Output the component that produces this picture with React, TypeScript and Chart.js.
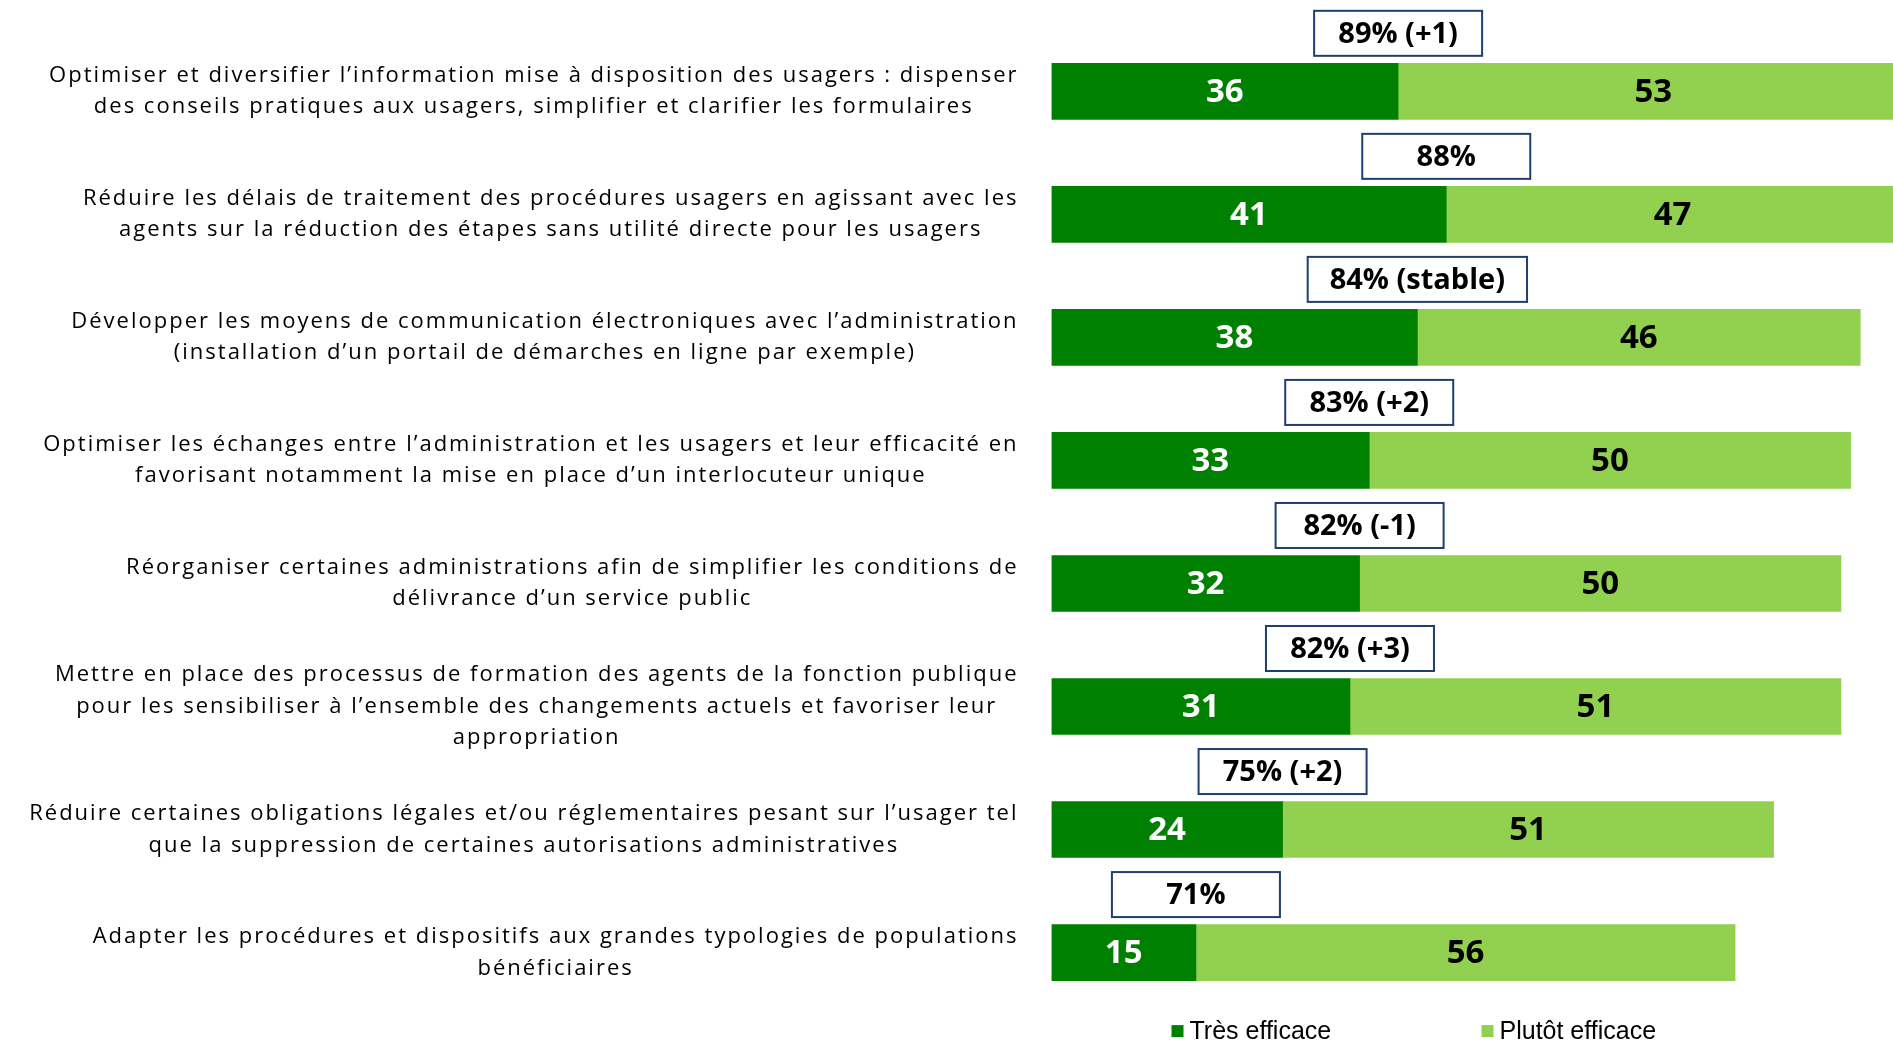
import React, { useEffect, useRef } from "react";
import { Chart, registerables } from "chart.js";

Chart.register(...registerables);

const categories: string[][] = [
  [
    "Optimiser et diversifier l’information mise à disposition des usagers : dispenser",
    "des conseils pratiques aux usagers, simplifier et clarifier les formulaires",
  ],
  [
    "Réduire les délais de traitement des procédures usagers en agissant avec les",
    "agents sur la réduction des étapes sans utilité directe pour les usagers",
  ],
  [
    "Développer les moyens de communication électroniques avec l’administration",
    "(installation d’un portail de démarches en ligne par exemple)",
  ],
  [
    "Optimiser les échanges entre l’administration et les usagers et leur efficacité en",
    "favorisant notamment la mise en place d’un interlocuteur unique",
  ],
  [
    "Réorganiser certaines administrations afin de simplifier les conditions de",
    "délivrance d’un service public",
  ],
  [
    "Mettre en place des processus de formation des agents de la fonction publique",
    "pour les sensibiliser à l’ensemble des changements actuels et favoriser leur",
    "appropriation",
  ],
  [
    "Réduire certaines obligations légales et/ou réglementaires pesant sur l’usager tel",
    "que la suppression de certaines autorisations administratives",
  ],
  [
    "Adapter les procédures et dispositifs aux grandes typologies de populations",
    "bénéficiaires",
  ],
];

const tresEfficace = [36, 41, 38, 33, 32, 31, 24, 15];
const plutotEfficace = [53, 47, 46, 50, 50, 51, 51, 56];
const totalLabels = [
  "89% (+1)",
  "88%",
  "84% (stable)",
  "83% (+2)",
  "82% (-1)",
  "82% (+3)",
  "75% (+2)",
  "71%",
];
const seriesNames = ["Très efficace", "Plutôt efficace"];

const AXIS_MAX = 87.4;
const DARK = "#008000";
const LIGHT = "#92D050";
const BOX_BORDER = "#1F3F6E";

const customLabels = {
  id: "customLabels",
  afterDatasetsDraw(chart: any) {
    const ctx = chart.ctx as CanvasRenderingContext2D;
    const xs = chart.scales.x;
    const ys = chart.scales.y;
    const area = chart.chartArea;
    ctx.save();

    // category labels
    ctx.font = "22px 'Open Sans', sans-serif";
    (ctx as any).letterSpacing = "2px";
    ctx.fillStyle = "#000";
    ctx.textAlign = "center";
    ctx.textBaseline = "middle";
    const rightEdge = area.left - 33;
    const lh = 31.5;
    categories.forEach((lines, i) => {
      const cy = ys.getPixelForValue(i);
      const maxW = Math.max(...lines.map((l) => ctx.measureText(l).width));
      const cx = rightEdge - maxW / 2;
      lines.forEach((l, k) => {
        ctx.fillText(l, cx, cy + (k - (lines.length - 1) / 2) * lh);
      });
    });
    (ctx as any).letterSpacing = "0px";

    // values inside bars
    ctx.font = "bold 33px 'Open Sans', sans-serif";
    chart.data.datasets.forEach((ds: any, di: number) => {
      const meta = chart.getDatasetMeta(di);
      meta.data.forEach((bar: any, i: number) => {
        const start = di === 0 ? 0 : tresEfficace[i];
        const v = ds.data[i] as number;
        const px = xs.getPixelForValue(start + v / 2);
        ctx.fillStyle = di === 0 ? "#FFFFFF" : "#000000";
        ctx.fillText(String(v), px, bar.y + 1);
      });
    });

    // total boxes
    ctx.font = "bold 29px 'Open Sans', sans-serif";
    const meta0 = chart.getDatasetMeta(0);
    totalLabels.forEach((t, i) => {
      const bar = meta0.data[i];
      const barTop = bar.y - bar.height / 2;
      const h = 45;
      const bottom = barTop - 7.5;
      const top = bottom - h;
      const tw = ctx.measureText(t).width;
      const w = Math.max(tw + 44, 168);
      const cx = xs.getPixelForValue(tresEfficace[i]);
      ctx.fillStyle = "#FFFFFF";
      ctx.fillRect(cx - w / 2, top, w, h);
      ctx.strokeStyle = BOX_BORDER;
      ctx.lineWidth = 2;
      ctx.strokeRect(cx - w / 2, top, w, h);
      ctx.fillStyle = "#000";
      ctx.fillText(t, cx, top + h / 2 + 1);
    });

    ctx.restore();
  },
  afterDraw(chart: any) {
    const ctx = chart.ctx as CanvasRenderingContext2D;
    const area = chart.chartArea;
    ctx.save();
    ctx.font = "25px 'Liberation Sans', Arial, sans-serif";
    ctx.textAlign = "left";
    ctx.textBaseline = "middle";
    const cy = area.bottom + 17;
    const items = [
      { x: area.left + 120, color: DARK, text: seriesNames[0] },
      { x: area.left + 430, color: LIGHT, text: seriesNames[1] },
    ];
    items.forEach((it) => {
      ctx.fillStyle = it.color;
      ctx.fillRect(it.x, cy - 6, 12, 12);
      ctx.fillStyle = "#000";
      ctx.fillText(it.text, it.x + 18, cy + 1);
    });
    ctx.restore();
  },
};

export default function App() {
  const ref = useRef<HTMLCanvasElement | null>(null);

  useEffect(() => {
    if (!ref.current) return;
    const chart = new Chart(ref.current, {
      type: "bar",
      data: {
        labels: categories.map((c) => c.join(" ")),
        datasets: [
          {
            label: seriesNames[0],
            data: tresEfficace,
            backgroundColor: DARK,
            borderWidth: 0,
            barThickness: 56,
          },
          {
            label: seriesNames[1],
            data: plutotEfficace,
            backgroundColor: LIGHT,
            borderWidth: 0,
            barThickness: 56,
          },
        ],
      },
      options: {
        indexAxis: "y",
        animation: false,
        responsive: false,
        devicePixelRatio: 1,
        layout: {
          padding: { left: 1051.5, right: 0, top: 29.8, bottom: 26.9 },
        },
        scales: {
          x: {
            stacked: true,
            min: 0,
            max: AXIS_MAX,
            display: false,
          },
          y: {
            stacked: true,
            display: false,
          },
        },
        plugins: {
          legend: { display: false },
          tooltip: { enabled: false },
        },
      },
      plugins: [customLabels],
    });
    return () => chart.destroy();
  }, []);

  return (
    <div
      style={{
        position: "fixed",
        left: 0,
        top: 0,
        width: 1893,
        height: 1041,
        background: "#FFFFFF",
        overflow: "hidden",
      }}
    >
      <canvas
        ref={ref}
        width={1893}
        height={1041}
        style={{ display: "block", width: 1893, height: 1041 }}
      />
    </div>
  );
}
